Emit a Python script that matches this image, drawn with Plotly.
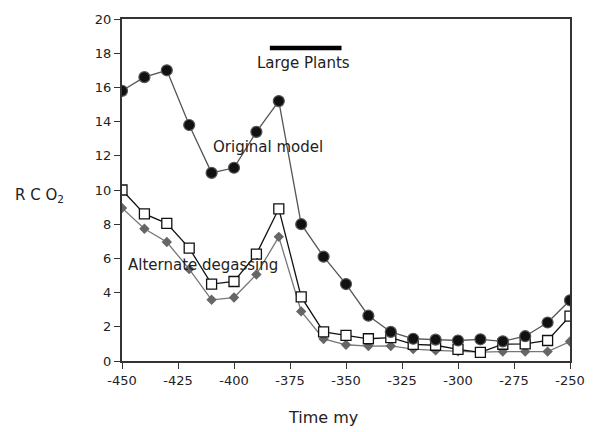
import plotly.graph_objects as go

time_my = [-450, -440, -430, -420, -410, -400, -390, -380, -370, -360, -350,
           -340, -330, -320, -310, -300, -290, -280, -270, -260, -250]
original_model = [15.8, 16.6, 17.0, 13.8, 11.0, 11.3, 13.4, 15.2, 8.0, 6.1, 4.5,
                  2.65, 1.7, 1.3, 1.25, 1.2, 1.27, 1.15, 1.45, 2.25, 3.55]
alternate_open = [10.0, 8.6, 8.05, 6.6, 4.5, 4.65, 6.25, 8.9, 3.75, 1.7, 1.5,
                  1.3, 1.37, 0.97, 0.92, 0.68, 0.5, 0.98, 1.0, 1.2, 2.63]
alternate_gray = [8.95, 7.73, 6.96, 5.37, 3.58, 3.71, 5.06, 7.26, 2.9, 1.29, 0.95,
                  0.87, 0.88, 0.7, 0.62, 0.56, 0.52, 0.55, 0.55, 0.55, 1.14]

x_ticks = [-450, -425, -400, -375, -350, -325, -300, -275, -250]
y_ticks = [0, 2, 4, 6, 8, 10, 12, 14, 16, 18, 20]

large_plants_span = [-384, -352]
large_plants_level = 18.3

FONT = "DejaVu Sans, sans-serif"
TXT = "#222222"

fig = go.Figure()
fig.add_trace(go.Scatter(
    x=time_my, y=alternate_gray, mode="lines+markers",
    line=dict(color="#777777", width=1.3),
    marker=dict(symbol="diamond", size=8, color="#666666", line=dict(width=0)),
    showlegend=False))
fig.add_trace(go.Scatter(
    x=time_my, y=alternate_open, mode="lines+markers",
    line=dict(color="#111111", width=1.3),
    marker=dict(symbol="square", size=10, color="white", line=dict(color="#111111", width=1.3)),
    showlegend=False))
fig.add_trace(go.Scatter(
    x=time_my, y=original_model, mode="lines+markers",
    line=dict(color="#555555", width=1.3),
    marker=dict(symbol="circle", size=11, color="#111111", line=dict(color="#555555", width=1.2)),
    showlegend=False))

fig.add_shape(type="line", xref="x", yref="y",
              x0=large_plants_span[0], x1=large_plants_span[1],
              y0=large_plants_level, y1=large_plants_level,
              line=dict(color="black", width=4.5))

fig.add_annotation(x=sum(large_plants_span) / 2 - 1, y=17.4, text="Large Plants",
                   showarrow=False, font=dict(family=FONT, size=15, color=TXT))
fig.add_annotation(x=-385, y=12.5, text="Original model", showarrow=False,
                   font=dict(family=FONT, size=15, color=TXT))
fig.add_annotation(x=-414, y=5.6, text="Alternate degassing", showarrow=False,
                   font=dict(family=FONT, size=15, color=TXT))
fig.add_annotation(xref="paper", yref="paper", x=-0.185, y=0.485,
                   text="R C O<sub>2</sub>", showarrow=False, xanchor="center",
                   font=dict(family=FONT, size=15, color=TXT))
fig.add_annotation(xref="paper", yref="paper", x=0.449, y=-0.165,
                   text="Time my", showarrow=False, xanchor="center", yanchor="middle",
                   font=dict(family=FONT, size=16, color=TXT))

fig.update_layout(
    width=597, height=432,
    margin=dict(l=122, r=18, t=16, b=71),
    paper_bgcolor="white", plot_bgcolor="white",
    font=dict(family=FONT, size=13, color=TXT),
    xaxis=dict(range=[-450, -250], tickvals=x_ticks, ticktext=[str(v) for v in x_ticks],
               showgrid=False, zeroline=False, showline=True, linecolor="#333333",
               linewidth=2, mirror=True, ticks="outside", ticklen=6, tickcolor="#333333",
               tickfont=dict(size=13)),
    yaxis=dict(range=[0, 20], tickvals=y_ticks, showgrid=False, zeroline=False,
               showline=True, linecolor="#333333", linewidth=2, mirror=True,
               ticks="outside", ticklen=6, tickcolor="#333333", tickfont=dict(size=13)),
)

fig.write_html(
    "out.html",
    config={"displayModeBar": False},
    post_script="document.body.style.margin='0';"
                "document.documentElement.style.overflow='hidden';",
)
